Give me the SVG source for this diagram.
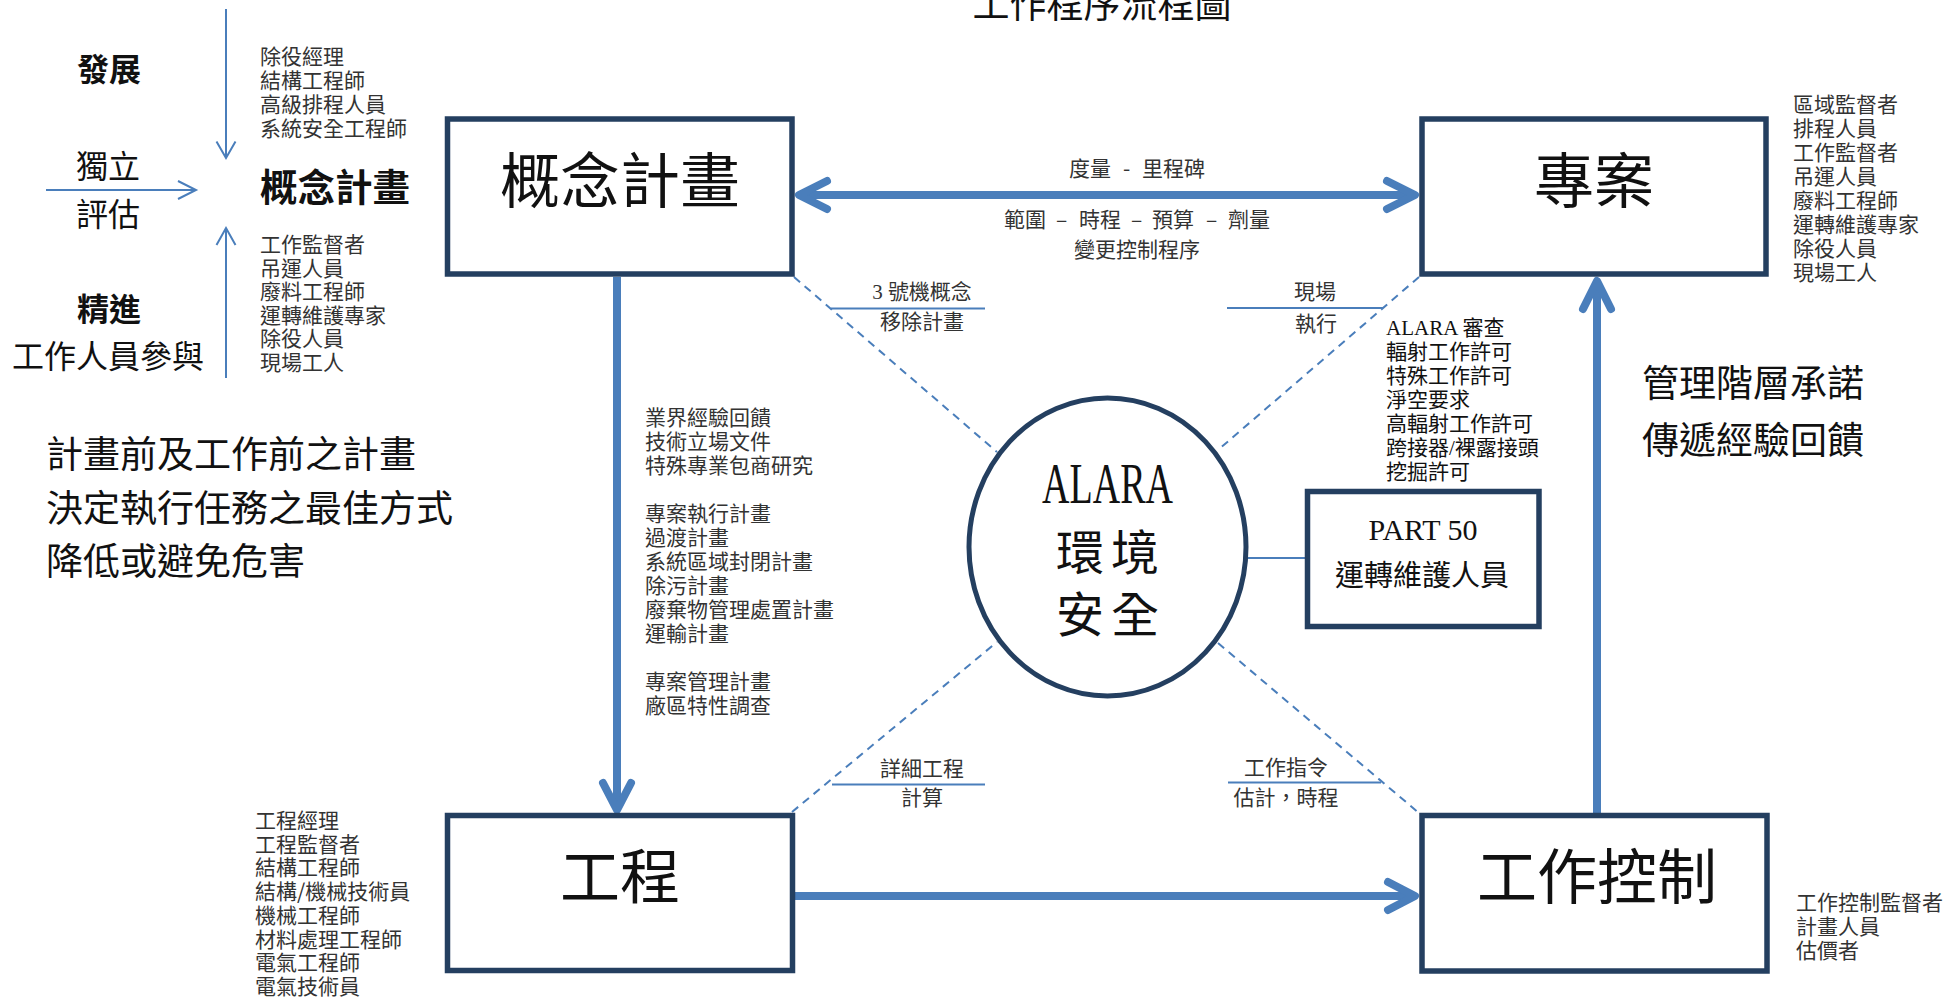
<svg xmlns="http://www.w3.org/2000/svg" width="1946" height="998" viewBox="0 0 1946 998">
<style>
text{font-family:"Noto Sans CJK TC","Noto Sans CJK SC",sans-serif;fill:#111}
.serif{font-family:"Liberation Serif","Noto Sans CJK TC",serif}
.list{font-size:21px;fill:#333}
.alist{font-size:21px;fill:#111;font-family:"Liberation Serif","Noto Sans CJK TC",serif}
.box{fill:#fff;stroke:#243f60;stroke-width:5.5}
.big{font-size:60px;text-anchor:middle}
.thick{fill:none;stroke:#4a7ebb;stroke-width:8}
.head{fill:none;stroke:#4a7ebb;stroke-width:8;stroke-linecap:round;stroke-linejoin:round}
.thin{fill:none;stroke:#4a7ebb;stroke-width:2}
.dash{fill:none;stroke:#4a7ebb;stroke-width:2;stroke-dasharray:8 6}
.lbl{font-size:21px;fill:#333;text-anchor:middle}
.lbs{font-size:21px;fill:#333}
.side{font-size:37px}
</style>

<text id="title" x="1102" y="17.5" style="font-size:37px;text-anchor:middle">工作程序流程圖</text>

<g id="connectors">
  <!-- top double arrow -->
  <line class="thick" x1="800" y1="195" x2="1414" y2="195"/>
  <polyline class="head" points="827,181 799,195 827,209"/>
  <polyline class="head" points="1387,181 1415,195 1387,209"/>
  <!-- down arrow -->
  <line class="thick" x1="617" y1="277" x2="617" y2="808"/>
  <polyline class="head" points="603,783 617,810 631,783"/>
  <!-- bottom right arrow -->
  <line class="thick" x1="795" y1="896" x2="1414" y2="896"/>
  <polyline class="head" points="1388,882 1415,896 1388,910"/>
  <!-- up arrow -->
  <line class="thick" x1="1597" y1="813" x2="1597" y2="282"/>
  <polyline class="head" points="1583,309 1597,281 1611,309"/>
  <!-- dashed diagonals -->
  <line class="dash" x1="794" y1="277" x2="997" y2="452"/>
  <line class="dash" x1="1419" y1="277" x2="1218" y2="450"/>
  <line class="dash" x1="792" y1="812" x2="997" y2="642"/>
  <line class="dash" x1="1218" y1="643" x2="1419" y2="813"/>
  <!-- label lines -->
  <line class="thin" x1="831" y1="308.5" x2="985" y2="308.5"/>
  <line class="thin" x1="1227" y1="308" x2="1383" y2="308"/>
  <line class="thin" x1="832" y1="784.5" x2="985" y2="784.5"/>
  <line class="thin" x1="1228" y1="782.5" x2="1381" y2="782.5"/>
  <!-- circle to part 50 -->
  <line class="thin" x1="1246" y1="558" x2="1307" y2="558"/>
  <!-- left thin arrows -->
  <line class="thin" x1="226" y1="9" x2="226" y2="157"/>
  <polyline class="thin" points="216.5,141.5 226,158 235.5,141.5"/>
  <line class="thin" x1="46" y1="190" x2="195" y2="190"/>
  <polyline class="thin" points="178,181 196,190 178,199"/>
  <line class="thin" x1="226" y1="378" x2="226" y2="229"/>
  <polyline class="thin" points="216.5,245 226,228 235.5,245"/>
</g>

<g id="node-concept">
  <rect class="box" x="447.5" y="119" width="344.5" height="155"/>
  <text class="big" x="620" y="202.5">概念計畫</text>
</g>

<g id="node-project">
  <rect class="box" x="1422" y="119" width="344" height="155"/>
  <text class="big" x="1594" y="202.5">專案</text>
</g>

<g id="node-engineering">
  <rect class="box" x="447.5" y="815.5" width="345" height="155"/>
  <text class="big" x="620" y="899">工程</text>
</g>

<g id="node-workcontrol">
  <rect class="box" x="1422" y="815.5" width="345" height="155.5"/>
  <text class="big" x="1597" y="899">工作控制</text>
</g>

<g id="node-alara">
  <ellipse cx="1107.5" cy="547" rx="138.5" ry="149" fill="#fff" stroke="#243f60" stroke-width="5"/>
  <text class="serif" x="1042" y="503" style="font-size:57px" textLength="131" lengthAdjust="spacingAndGlyphs">ALARA</text>
  <text x="1056" y="570" style="font-size:48px;letter-spacing:7px">環境</text>
  <text x="1056" y="632" style="font-size:48px;letter-spacing:7px">安全</text>
</g>

<g id="node-part50">
  <rect class="box" x="1307.5" y="491.5" width="231.5" height="135"/>
  <text class="serif" x="1423" y="540" style="font-size:30px;text-anchor:middle">PART 50</text>
  <text x="1422" y="586" style="font-size:29px;text-anchor:middle">運轉維護人員</text>
</g>

<g id="left-labels">
  <text x="109" y="81" style="font-size:32px;font-weight:bold;text-anchor:middle">發展</text>
  <text x="108" y="178" style="font-size:32px;text-anchor:middle">獨立</text>
  <text x="108" y="226" style="font-size:32px;text-anchor:middle">評估</text>
  <text x="260" y="201" style="font-size:37.5px;font-weight:bold">概念計畫</text>
  <text x="109" y="321" style="font-size:32px;font-weight:bold;text-anchor:middle">精進</text>
  <text x="108" y="368" style="font-size:32px;text-anchor:middle">工作人員參與</text>
  <text class="list" y="64"><tspan x="260">除役經理</tspan><tspan x="260" dy="24">結構工程師</tspan><tspan x="260" dy="24">高級排程人員</tspan><tspan x="260" dy="24">系統安全工程師</tspan></text>
  <text class="list" y="252"><tspan x="260">工作監督者</tspan><tspan x="260" dy="23.6">吊運人員</tspan><tspan x="260" dy="23.6">廢料工程師</tspan><tspan x="260" dy="23.6">運轉維護專家</tspan><tspan x="260" dy="23.6">除役人員</tspan><tspan x="260" dy="23.6">現場工人</tspan></text>
</g>

<g id="left-block">
  <text class="side" x="46" y="468">計畫前及工作前之計畫</text>
  <text class="side" x="46" y="522">決定執行任務之最佳方式</text>
  <text class="side" x="46" y="575">降低或避免危害</text>
</g>

<g id="plans-list">
  <text class="list" y="425"><tspan x="645">業界經驗回饋</tspan><tspan x="645" dy="24">技術立場文件</tspan><tspan x="645" dy="24">特殊專業包商研究</tspan><tspan x="645" dy="48">專案執行計畫</tspan><tspan x="645" dy="24">過渡計畫</tspan><tspan x="645" dy="24">系統區域封閉計畫</tspan><tspan x="645" dy="24">除污計畫</tspan><tspan x="645" dy="24">廢棄物管理處置計畫</tspan><tspan x="645" dy="24">運輸計畫</tspan><tspan x="645" dy="48">專案管理計畫</tspan><tspan x="645" dy="24">廠區特性調查</tspan></text>
</g>

<g id="edge-labels">
  <text class="lbs" y="176"><tspan x="1069">度量</tspan><tspan x="1123">-</tspan><tspan x="1142">里程碑</tspan></text>
  <text class="lbs" y="227"><tspan x="1004">範圍</tspan><tspan x="1056">–</tspan><tspan x="1079">時程</tspan><tspan x="1131">–</tspan><tspan x="1152">預算</tspan><tspan x="1206">–</tspan><tspan x="1228">劑量</tspan></text>
  <text class="lbl" x="1137" y="257">變更控制程序</text>
  <text class="lbl serif" x="922" y="299">3 號機概念</text>
  <text class="lbl" x="922" y="329">移除計畫</text>
  <text class="lbl" x="1315" y="299">現場</text>
  <text class="lbl" x="1316" y="331">執行</text>
  <text class="lbl" x="922" y="776">詳細工程</text>
  <text class="lbl" x="922" y="805">計算</text>
  <text class="lbl" x="1286" y="775">工作指令</text>
  <text class="lbl" x="1286" y="805">估計，時程</text>
</g>

<g id="alara-list">
  <text class="alist" y="335"><tspan x="1386">ALARA 審查</tspan><tspan x="1386" dy="24">輻射工作許可</tspan><tspan x="1386" dy="24">特殊工作許可</tspan><tspan x="1386" dy="24">淨空要求</tspan><tspan x="1386" dy="24">高輻射工作許可</tspan><tspan x="1386" dy="24">跨接器/裸露接頭</tspan><tspan x="1386" dy="24">挖掘許可</tspan></text>
</g>

<g id="project-list">
  <text class="list" y="112"><tspan x="1793">區域監督者</tspan><tspan x="1793" dy="24">排程人員</tspan><tspan x="1793" dy="24">工作監督者</tspan><tspan x="1793" dy="24">吊運人員</tspan><tspan x="1793" dy="24">廢料工程師</tspan><tspan x="1793" dy="24">運轉維護專家</tspan><tspan x="1793" dy="24">除役人員</tspan><tspan x="1793" dy="24">現場工人</tspan></text>
</g>

<g id="mgmt-text">
  <text class="side" x="1642" y="397">管理階層承諾</text>
  <text class="side" x="1642" y="454">傳遞經驗回饋</text>
</g>

<g id="engineering-list">
  <text class="list" y="828"><tspan x="255">工程經理</tspan><tspan x="255" dy="23.7">工程監督者</tspan><tspan x="255" dy="23.7">結構工程師</tspan><tspan x="255" dy="23.7">結構/機械技術員</tspan><tspan x="255" dy="23.7">機械工程師</tspan><tspan x="255" dy="23.7">材料處理工程師</tspan><tspan x="255" dy="23.7">電氣工程師</tspan><tspan x="255" dy="23.7">電氣技術員</tspan></text>
</g>

<g id="workcontrol-list">
  <text class="list" y="910"><tspan x="1796">工作控制監督者</tspan><tspan x="1796" dy="24">計畫人員</tspan><tspan x="1796" dy="24">估價者</tspan></text>
</g>
</svg>
